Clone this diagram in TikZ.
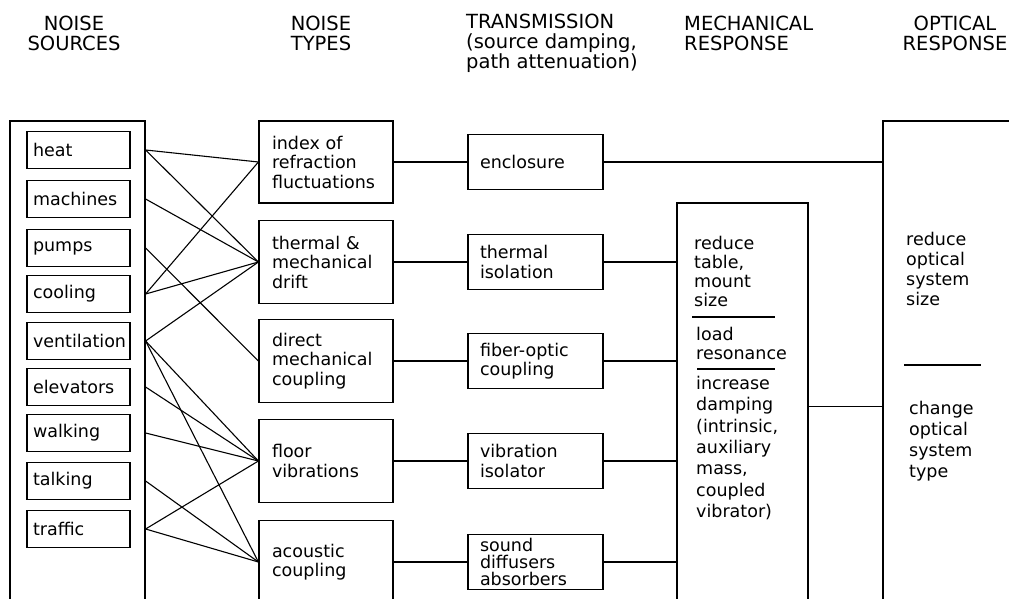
\documentclass[tikz,border=0pt]{standalone}
\usepackage{fontspec}
\setmainfont{DejaVu Sans}
\newcommand\mybody{\fontsize{17.5}{19.5}\selectfont}
\tikzset{
  box/.style={draw, line width=1.2pt, inner ysep=0pt, align=left, font=\mybody},
  srcbox/.style={box, text width=91pt, inner xsep=6pt, minimum height=37pt},
  typebox/.style={box, text width=108pt, inner xsep=13pt, minimum height=83pt},
  transbox/.style={box, text width=111pt, inner xsep=12pt, minimum height=55pt},
  bigbox/.style={draw, line width=1.2pt, inner sep=0pt},
  conn/.style={line width=1.1pt},
  hdr/.style={inner sep=0pt, font=\fontsize{19.5}{20}\selectfont},
  txt/.style={inner sep=0pt, anchor=west, align=left},
  sep/.style={line width=1.2pt}
}
\begin{document}
\begin{tikzpicture}[x=1pt,y=-1pt]
\path[use as bounding box, clip] (0,0) rectangle (1009,599);
\fill[white] (0,0) rectangle (1009,599);

% headers
\node[hdr, align=center] (h1) at (74,33) {NOISE\\SOURCES};
\node[hdr, align=center] (h2) at (321,33) {NOISE\\TYPES};
\node[hdr, align=left, anchor=west] (h3) at (466,43) {TRANSMISSION\\(source damping,\\ path attenuation)};
\node[hdr, align=left, anchor=west] (h4) at (684,33) {MECHANICAL\\ RESPONSE};
\node[hdr, align=center] (h5) at (955,33) {OPTICAL\\RESPONSE};

% noise sources
\node[bigbox, minimum width=135pt, minimum height=499pt] (frame) at (77.5,370.5) {};
\node[srcbox] (heat) at (78.5,150) {heat};
\node[srcbox] (machines) at (78.5,199) {machines};
\node[srcbox] (pumps) at (78.5,248) {pumps};
\node[srcbox] (cooling) at (78.5,294) {cooling};
\node[srcbox] (vent) at (78.5,341) {ventilation};
\node[srcbox] (elev) at (78.5,387) {elevators};
\node[srcbox] (walk) at (78.5,433) {walking};
\node[srcbox] (talk) at (78.5,481) {talking};
\node[srcbox] (traf) at (78.5,529) {traffic};
\foreach \s in {heat,machines,pumps,cooling,vent,elev,walk,talk,traf}
  \coordinate (\s E) at (frame.east |- \s);

% noise types
\node[typebox, minimum height=82pt] (index) at (326,162) {index of\\refraction\\fluctuations};
\node[typebox] (thermal) at (326,262) {thermal \&\\mechanical\\drift};
\node[typebox] (direct) at (326,361) {direct\\mechanical\\coupling};
\node[typebox] (floor) at (326,461) {floor\\vibrations};
\node[typebox] (acoustic) at (326,562) {acoustic\\coupling};

% transmission
\node[transbox] (enclosure) at (535.5,162) {enclosure};
\node[transbox] (thermiso) at (535.5,262) {thermal\\isolation};
\node[transbox] (fiber) at (535.5,361) {fiber-optic\\coupling};
\node[transbox] (vibiso) at (535.5,461) {vibration\\isolator};
\node[transbox, font=\fontsize{17.5}{17}\selectfont] (sound) at (535.5,562) {sound\\diffusers\\absorbers};

% mechanical response
\node[bigbox, minimum width=131pt, minimum height=417pt] (mech) at (742.5,411.5) {};
\node[txt, font=\fontsize{17.5}{19}\selectfont] (m1) at (694,271.5) {reduce\\table,\\mount\\size};
\node[txt, font=\fontsize{17.5}{19}\selectfont] (m2) at (696,343.5) {load\\resonance};
\node[txt, font=\fontsize{17.5}{21.3}\selectfont] (m3) at (696,448) {increase\\damping\\(intrinsic,\\auxiliary\\mass,\\coupled\\vibrator)};
\draw[sep] (692,317) -- (775,317);
\draw[sep] (697,369) -- (775,369);

% optical response
\node[bigbox, minimum width=140pt, minimum height=499pt] (optical) at (953,370.5) {};
\node[txt, font=\fontsize{17.5}{20}\selectfont] (o1) at (906,269) {reduce\\optical\\system\\size};
\node[txt, font=\fontsize{17.5}{21}\selectfont] (o2) at (909,441) {change\\optical\\system\\type};
\draw[sep] (904,365) -- (981,365);

% source -> type connectors
\draw[conn] (heatE) -- (index.west);
\draw[conn] (heatE) -- (thermal.west);
\draw[conn] (machinesE) -- (thermal.west);
\draw[conn] (pumpsE) -- (direct.west);
\draw[conn] (coolingE) -- (index.west);
\draw[conn] (coolingE) -- (thermal.west);
\draw[conn] (ventE) -- (thermal.west);
\draw[conn] (ventE) -- (floor.west);
\draw[conn] (ventE) -- (acoustic.west);
\draw[conn] (elevE) -- (floor.west);
\draw[conn] (walkE) -- (floor.west);
\draw[conn] (talkE) -- (acoustic.west);
\draw[conn] (trafE) -- (floor.west);
\draw[conn] (trafE) -- (acoustic.west);

% type -> transmission
\draw[conn] (index.east) -- (enclosure.west);
\draw[conn] (thermal.east) -- (thermiso.west);
\draw[conn] (direct.east) -- (fiber.west);
\draw[conn] (floor.east) -- (vibiso.west);
\draw[conn] (acoustic.east) -- (sound.west);

% transmission -> responses
\draw[conn] (enclosure.east) -- (enclosure.east -| optical.west);
\draw[conn] (thermiso.east) -- (thermiso.east -| mech.west);
\draw[conn] (fiber.east) -- (fiber.east -| mech.west);
\draw[conn] (vibiso.east) -- (vibiso.east -| mech.west);
\draw[conn] (sound.east) -- (sound.east -| mech.west);
\path (mech.north east) ++(0,204) coordinate (mechout);
\draw[conn] (mechout) -- (mechout -| optical.west);
\end{tikzpicture}
\end{document}
